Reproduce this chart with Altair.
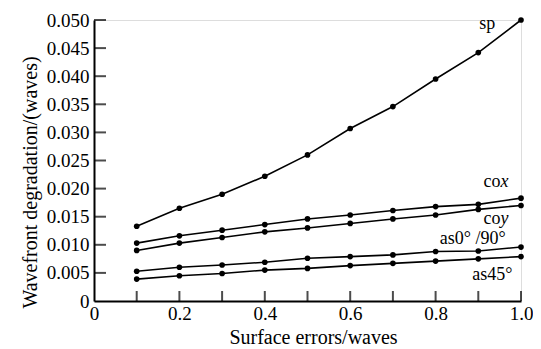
import altair as alt
import pandas as pd

x_vals = [0.1, 0.2, 0.3, 0.4, 0.5, 0.6, 0.7, 0.8, 0.9, 1.0]
sp = [0.0133, 0.0165, 0.0190, 0.0222, 0.0260, 0.0307, 0.0346, 0.0395, 0.0442, 0.0500]
cox = [0.0103, 0.0116, 0.0126, 0.0136, 0.0146, 0.0153, 0.0161, 0.0168, 0.0172, 0.0183]
coy = [0.0090, 0.0103, 0.0113, 0.0123, 0.0130, 0.0138, 0.0146, 0.0153, 0.0163, 0.0170]
as0_90 = [0.0053, 0.0060, 0.0064, 0.0069, 0.0076, 0.0079, 0.0082, 0.0088, 0.0089, 0.0096]
as45 = [0.0039, 0.0045, 0.0049, 0.0055, 0.0058, 0.0063, 0.0067, 0.0071, 0.0075, 0.0079]

series = {"sp": sp, "cox": cox, "coy": coy, "as0/90": as0_90, "as45": as45}

label_text = ["sp", "co", "co", "as0° /90°", "as45°"]
label_x = [0.921, 0.952, 0.952, 0.887, 0.933]
label_y = [0.0493, 0.0212, 0.0146, 0.0110, 0.0046]
label_align = ["center", "right", "right", "center", "center"]
italic_text = ["x", "y"]
italic_x = [0.952, 0.952]
italic_y = [0.0212, 0.0146]

x_ticks = [0.1, 0.2, 0.3, 0.4, 0.5, 0.6, 0.7, 0.8, 0.9, 1.0]
y_ticks = [0.005, 0.010, 0.015, 0.020, 0.025, 0.030, 0.035, 0.040, 0.045, 0.050]
x_labels = [0, 0.2, 0.4, 0.6, 0.8, 1.0]

W, H = 427, 281
FONT = "Times New Roman, Liberation Serif, serif"
FS = 19
TFS = 20
AFS = 18

rows = []
for name, vals in series.items():
    for xv, yv in zip(x_vals, vals):
        rows.append({"series": name, "x": xv, "y": yv})
df = pd.DataFrame(rows)

xscale = alt.Scale(domain=[0, 1], nice=False, zero=True)
yscale = alt.Scale(domain=[0, 0.05], nice=False, zero=True)

xaxis = alt.Axis(
    title="Surface errors/waves",
    values=x_labels,
    labelExpr="datum.value == 0 ? '0' : format(datum.value, '.1f')",
    ticks=False, grid=False, domainColor="black", domainWidth=2,
    labelOverlap=False, labelFlush=False, labelBound=False,
    labelFont=FONT, labelFontSize=FS, labelColor="black", labelPadding=3,
    titleFont=FONT, titleFontSize=TFS, titleFontWeight="normal", titleColor="black",
    titlePadding=4, titleX=219,
)
yaxis = alt.Axis(
    title="Wavefront degradation/(waves)",
    values=[0] + y_ticks,
    labelExpr="datum.value == 0 ? '0' : format(datum.value, '.3f')",
    ticks=False, grid=False, domainColor="black", domainWidth=2,
    labelOverlap=False, labelFlush=False, labelBound=False,
    labelFont=FONT, labelFontSize=FS, labelColor="black", labelPadding=5,
    titleFont=FONT, titleFontSize=TFS, titleFontWeight="normal", titleColor="black",
    titlePadding=6, titleY=162,
)

X = lambda f: alt.X(f, scale=xscale, axis=xaxis)
Y = lambda f: alt.Y(f, scale=yscale, axis=yaxis)

base = alt.Chart(df)
lines = base.mark_line(color="black", strokeWidth=1.6).encode(
    x=X("x:Q"), y=Y("y:Q"), detail="series:N",
)
points = base.mark_circle(color="black", size=32, opacity=1).encode(
    x=X("x:Q"), y=Y("y:Q"),
)

xt = alt.Chart(pd.DataFrame({"v": x_ticks})).mark_tick(
    color="black", thickness=2, size=10, orient="vertical"
).encode(x=X("v:Q"), y=alt.value(H - 5))

yt = alt.Chart(pd.DataFrame({"v": y_ticks})).mark_tick(
    color="black", thickness=2, size=12, orient="horizontal"
).encode(y=Y("v:Q"), x=alt.value(6))

lab_df = pd.DataFrame({"t": label_text, "x": label_x, "y": label_y, "a": label_align})
labels_c = alt.Chart(lab_df[lab_df.a == "center"]).mark_text(
    font=FONT, fontSize=AFS, color="black", align="center", baseline="middle"
).encode(x=X("x:Q"), y=Y("y:Q"), text="t:N")
labels_r = alt.Chart(lab_df[lab_df.a == "right"]).mark_text(
    font=FONT, fontSize=AFS, color="black", align="right", baseline="middle"
).encode(x=X("x:Q"), y=Y("y:Q"), text="t:N")

ital = alt.Chart(pd.DataFrame({"t": italic_text, "x": italic_x, "y": italic_y})).mark_text(
    font=FONT, fontSize=AFS, fontStyle="italic", color="black", align="left", baseline="middle"
).encode(x=X("x:Q"), y=Y("y:Q"), text="t:N")

chart = alt.layer(lines, points, xt, yt, labels_c, labels_r, ital).properties(
    width=W, height=H,
    autosize=alt.AutoSizeParams(type="none"),
    padding={"left": 86, "top": 12, "right": 12, "bottom": 48},
).configure_view(stroke=None).configure_axis(
    labelFont=FONT, titleFont=FONT, labelFontSize=FS, titleFontSize=TFS,
    labelOverlap=False,
).configure(background="white", font=FONT)

chart.save("out.html", embed_options={"renderer": "svg", "actions": False})
